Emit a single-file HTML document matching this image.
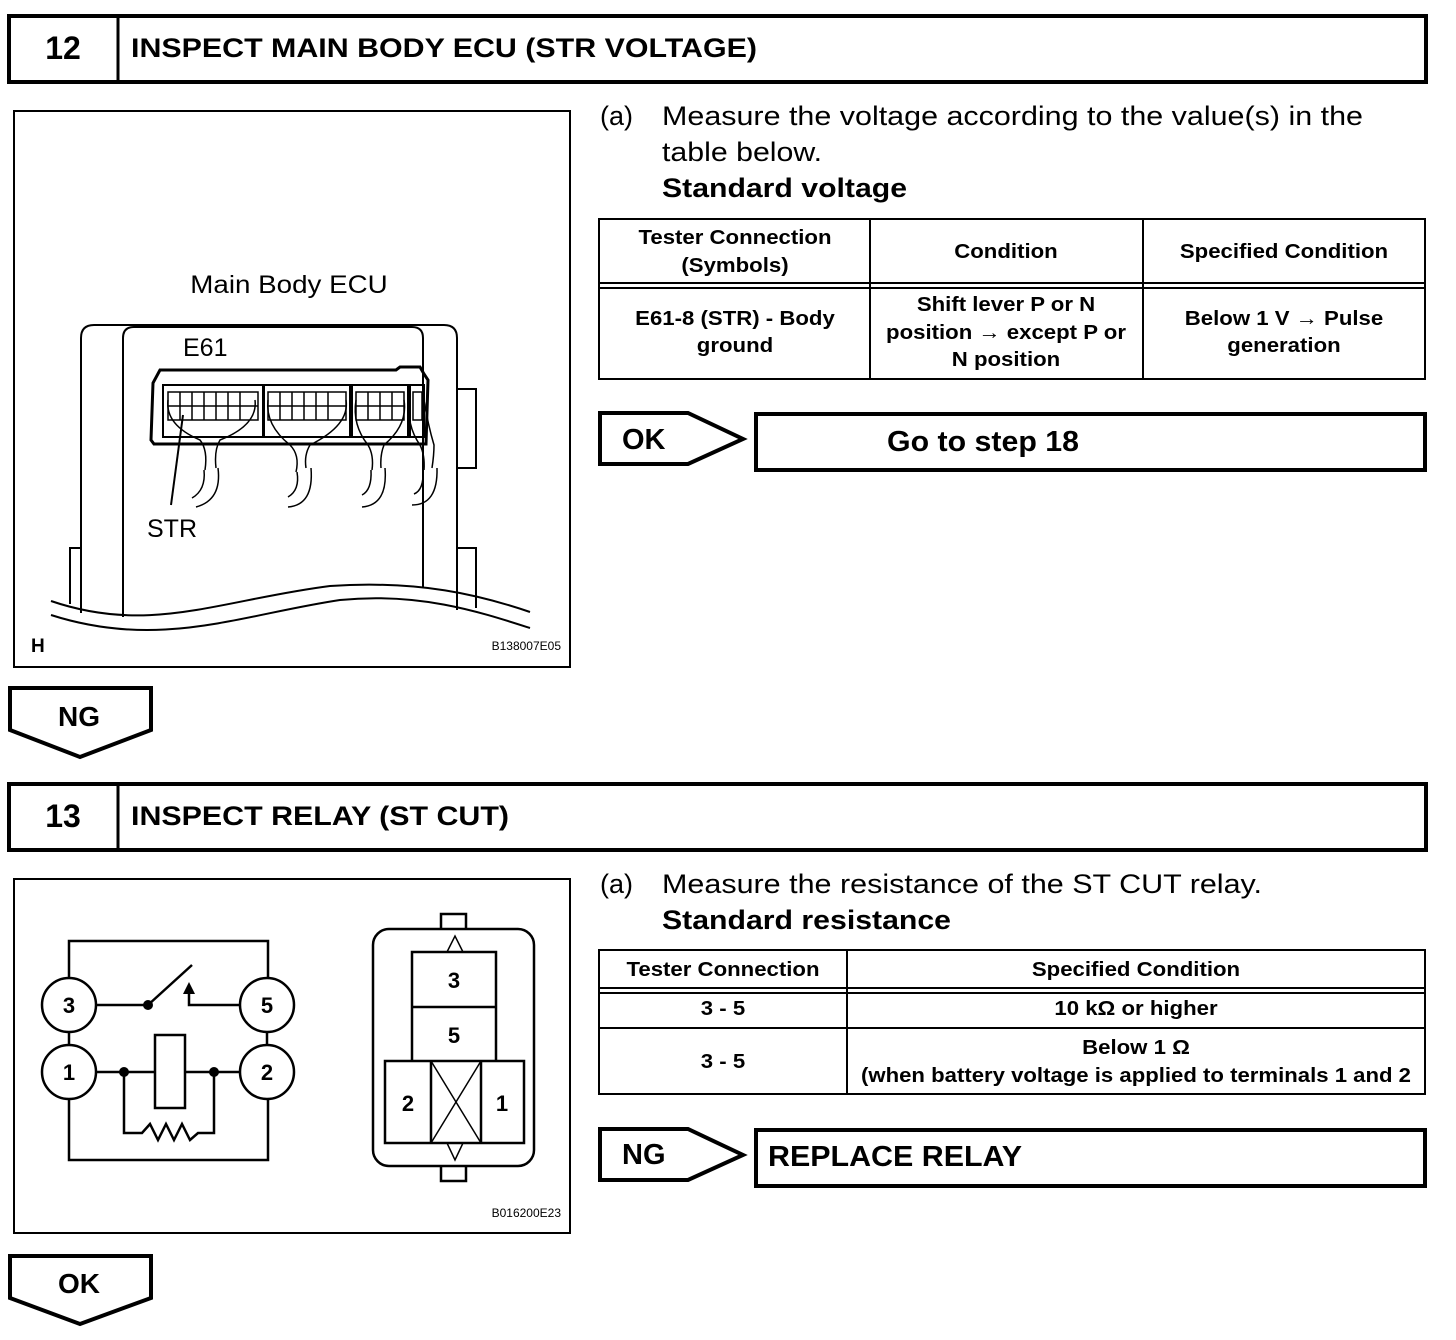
<!DOCTYPE html>
<html><head><meta charset="utf-8"><style>
body{margin:0;background:#fff}
svg{display:block}
text{font-family:"Liberation Sans",Arial,sans-serif;fill:#000}
.b{font-weight:bold}
.sc{transform-box:fill-box;transform-origin:center;transform:scaleX(1.11)}
</style></head><body>
<svg width="1456" height="1340" viewBox="0 0 1456 1340" xmlns="http://www.w3.org/2000/svg">
<g fill="none" stroke="#000">
<rect x="9" y="16" width="1417" height="66" stroke-width="4"/>
<line x1="118" y1="16" x2="118" y2="82" stroke-width="3"/>
<rect x="14" y="111" width="556" height="556" stroke-width="2"/>
<path d="M81,613 L81,338 Q81,325 94,325 L444,325 Q457,325 457,338 L457,610" stroke-width="2"/>
<path d="M123,617 L123,338 Q123,327 134,327 L412,327 Q423,327 423,338 L423,588" stroke-width="2"/>
<path d="M457,389 L476,389 L476,468 L457,468" stroke-width="2"/>
<path d="M457,548 L476,548 L476,608" stroke-width="2"/>
<path d="M81,548 L70,548 L70,604" stroke-width="2"/>
<path d="M160,370 L153,383 L151,440 L154,444 L426,444 L428,380 L424,374 L420,367 L400,367 L396,370 Z" stroke-width="3"/>
<rect x="163" y="385" width="100" height="52" stroke-width="2"/>
<rect x="264" y="385" width="86" height="52" stroke-width="2"/>
<rect x="352" y="385" width="56" height="52" stroke-width="2"/>
<rect x="410" y="385" width="14" height="52" stroke-width="2"/>
<g stroke-width="1.5">
<rect x="168" y="392" width="90" height="28"/>
<line x1="168" y1="406" x2="258" y2="406"/>
<line x1="180" y1="392" x2="180" y2="420"/><line x1="192" y1="392" x2="192" y2="420"/><line x1="204" y1="392" x2="204" y2="420"/><line x1="216" y1="392" x2="216" y2="420"/><line x1="228" y1="392" x2="228" y2="420"/><line x1="240" y1="392" x2="240" y2="420"/>
<rect x="268" y="392" width="78" height="28"/>
<line x1="268" y1="406" x2="346" y2="406"/>
<line x1="280" y1="392" x2="280" y2="420"/><line x1="292" y1="392" x2="292" y2="420"/><line x1="304" y1="392" x2="304" y2="420"/><line x1="316" y1="392" x2="316" y2="420"/><line x1="328" y1="392" x2="328" y2="420"/>
<rect x="356" y="392" width="48" height="28"/>
<line x1="356" y1="406" x2="404" y2="406"/>
<line x1="368" y1="392" x2="368" y2="420"/><line x1="380" y1="392" x2="380" y2="420"/><line x1="392" y1="392" x2="392" y2="420"/>
<rect x="413" y="392" width="9" height="28"/>
</g>
<g stroke-width="1.5">
<path d="M168,400 Q165,425 200,440 Q208,450 205,470"/><path d="M255,400 Q258,425 220,440 Q214,450 216,468"/>
<path d="M268,400 Q265,425 290,445 Q300,455 296,472"/><path d="M346,400 Q350,425 310,445 Q304,455 306,468"/>
<path d="M356,400 Q352,425 368,445 Q374,455 372,470"/><path d="M404,400 Q408,425 384,445 Q380,455 381,468"/>
<path d="M410,400 Q406,425 420,445 Q425,455 424,470"/><path d="M424,400 Q428,425 434,445 Q434,455 432,468"/>
<path d="M204,470 Q206,490 192,498"/><path d="M218,468 Q222,500 196,507"/>
<path d="M297,472 Q300,490 288,497"/><path d="M311,468 Q314,505 288,507"/>
<path d="M371,470 Q372,490 362,495"/><path d="M385,468 Q388,505 362,507"/>
<path d="M423,470 Q424,490 414,494"/><path d="M437,468 Q438,505 412,505"/>
</g>
<line x1="183" y1="415" x2="171" y2="505" stroke-width="2"/>
<path d="M51,601 C150,635 220,600 330,586 C420,580 480,595 530,612" stroke-width="2"/>
<path d="M51,615 C160,650 240,615 340,600 C420,592 480,612 530,628" stroke-width="2"/>
</g>
<text x="63" y="59" font-size="32" class="b" text-anchor="middle">12</text>
<text x="131" y="57" font-size="27" class="b" textLength="626" lengthAdjust="spacingAndGlyphs">INSPECT MAIN BODY ECU (STR VOLTAGE)</text>
<text x="289" y="293" font-size="25" text-anchor="middle" class="sc">Main Body ECU</text>
<text x="183" y="356" font-size="25">E61</text>
<text x="147" y="537" font-size="25">STR</text>
<text x="31" y="652" font-size="19" class="b">H</text>
<text x="561" y="650" font-size="12" text-anchor="end">B138007E05</text>

<text x="600" y="125" font-size="27">(a)</text>
<text x="662" y="125" font-size="27" textLength="701" lengthAdjust="spacingAndGlyphs">Measure the voltage according to the value(s) in the</text>
<text x="662" y="161" font-size="27" textLength="160" lengthAdjust="spacingAndGlyphs">table below.</text>
<text x="662" y="197" font-size="27" class="b" textLength="245" lengthAdjust="spacingAndGlyphs">Standard voltage</text>
<g fill="none" stroke="#000" stroke-width="2">
<rect x="599" y="219" width="826" height="160"/>
<line x1="870" y1="219" x2="870" y2="379"/><line x1="1143" y1="219" x2="1143" y2="379"/>
<line x1="599" y1="283" x2="1425" y2="283"/><line x1="599" y1="288" x2="1425" y2="288"/>
</g>
<g font-size="20" class="b" text-anchor="middle">
<text class="sc" x="735" y="244">Tester Connection</text><text class="sc" x="735" y="272">(Symbols)</text>
<text class="sc" x="1006" y="258">Condition</text>
<text class="sc" x="1284" y="258">Specified Condition</text>
<text class="sc" x="735" y="325">E61-8 (STR) - Body</text><text class="sc" x="735" y="352">ground</text>
<text class="sc" x="1006" y="311">Shift lever P or N</text><text class="sc" x="1006" y="339">position → except P or</text><text class="sc" x="1006" y="366">N position</text>
<text class="sc" x="1284" y="325">Below 1 V → Pulse</text><text class="sc" x="1284" y="352">generation</text>
</g>
<g fill="none" stroke="#000" stroke-width="4">
<path d="M600,413 L688,413 L743,439 L688,464 L600,464 Z"/>
<rect x="756" y="414" width="669" height="56"/>
</g>
<text x="622" y="449" font-size="29" class="b">OK</text>
<text x="983" y="451" font-size="29" class="b" text-anchor="middle" textLength="192" lengthAdjust="spacingAndGlyphs">Go to step 18</text>
<path d="M10,688 L151,688 L151,730 L80,757 L10,730 Z" fill="none" stroke="#000" stroke-width="4"/>
<text x="79" y="726" font-size="28" class="b" text-anchor="middle">NG</text>

<g fill="none" stroke="#000">
<rect x="9" y="784" width="1417" height="66" stroke-width="4"/>
<line x1="118" y1="784" x2="118" y2="850" stroke-width="3"/>
<rect x="14" y="879" width="556" height="354" stroke-width="2"/>
<g stroke-width="2.5">
<circle cx="69" cy="1005" r="27"/><circle cx="267" cy="1005" r="27"/>
<circle cx="69" cy="1072" r="27"/><circle cx="267" cy="1072" r="27"/>
<path d="M69,978 L69,941 L268,941 L268,978"/>
<line x1="69" y1="1032" x2="69" y2="1045"/><line x1="267" y1="1032" x2="267" y2="1045"/>
<line x1="96" y1="1005" x2="148" y2="1005"/><line x1="148" y1="1005" x2="192" y2="965"/>
<path d="M240,1005 L189,1005 L189,992"/>
<rect x="155" y="1035" width="30" height="73"/>
<line x1="96" y1="1072" x2="155" y2="1072"/><line x1="185" y1="1072" x2="240" y2="1072"/>
<path d="M124,1072 L124,1133 L142,1133 L150,1124 L158,1140 L166,1124 L174,1140 L182,1124 L190,1140 L198,1133 L214,1133 L214,1072"/>
<path d="M69,1099 L69,1160 L268,1160 L268,1099"/>
</g>
<g stroke-width="2.5">
<rect x="373" y="929" width="161" height="237" rx="16"/>
<path d="M441,929 L441,914 L466,914 L466,929"/>
<path d="M441,1166 L441,1181 L466,1181 L466,1166"/>
<path d="M412,1061 L412,952 L496,952 L496,1061"/>
<line x1="412" y1="1007" x2="496" y2="1007"/>
<rect x="385" y="1061" width="139" height="82"/>
<line x1="431" y1="1061" x2="431" y2="1143"/><line x1="481" y1="1061" x2="481" y2="1143"/>
</g>
<g stroke-width="1.5">
<line x1="431" y1="1061" x2="481" y2="1143"/><line x1="481" y1="1061" x2="431" y2="1143"/>
<path d="M447,952 L455,936 L463,952"/><path d="M447,1143 L455,1160 L463,1143"/>
</g>
</g>
<g fill="#000"><circle cx="148" cy="1005" r="5"/><circle cx="124" cy="1072" r="5"/><circle cx="214" cy="1072" r="5"/>
<path d="M183,994 L189,982 L195,994 Z"/></g>
<g font-size="22" class="b" text-anchor="middle">
<text x="69" y="1013">3</text><text x="267" y="1013">5</text><text x="69" y="1080">1</text><text x="267" y="1080">2</text>
<text x="454" y="988">3</text><text x="454" y="1043">5</text><text x="408" y="1111">2</text><text x="502" y="1111">1</text>
</g>
<text x="63" y="827" font-size="32" class="b" text-anchor="middle">13</text>
<text x="131" y="825" font-size="27" class="b" textLength="378" lengthAdjust="spacingAndGlyphs">INSPECT RELAY (ST CUT)</text>
<text x="561" y="1217" font-size="12" text-anchor="end">B016200E23</text>

<text x="600" y="893" font-size="27">(a)</text>
<text x="662" y="893" font-size="27" textLength="600" lengthAdjust="spacingAndGlyphs">Measure the resistance of the ST CUT relay.</text>
<text x="662" y="929" font-size="27" class="b" textLength="289" lengthAdjust="spacingAndGlyphs">Standard resistance</text>
<g fill="none" stroke="#000" stroke-width="2">
<rect x="599" y="950" width="826" height="144"/>
<line x1="847" y1="950" x2="847" y2="1094"/>
<line x1="599" y1="988" x2="1425" y2="988"/><line x1="599" y1="993" x2="1425" y2="993"/>
<line x1="599" y1="1028" x2="1425" y2="1028"/>
</g>
<g font-size="20" class="b" text-anchor="middle">
<text class="sc" x="723" y="976">Tester Connection</text><text class="sc" x="1136" y="976">Specified Condition</text>
<text class="sc" x="723" y="1015">3 - 5</text><text class="sc" x="1136" y="1015">10 kΩ or higher</text>
<text class="sc" x="723" y="1068">3 - 5</text><text class="sc" x="1136" y="1054">Below 1 Ω</text>
<text x="1136" y="1082" textLength="550" lengthAdjust="spacingAndGlyphs">(when battery voltage is applied to terminals 1 and 2</text>
</g>
<g fill="none" stroke="#000" stroke-width="4">
<path d="M600,1129 L688,1129 L743,1155 L688,1180 L600,1180 Z"/>
<rect x="756" y="1130" width="669" height="56"/>
</g>
<text x="622" y="1164" font-size="29" class="b">NG</text>
<text x="768" y="1166" font-size="29" class="b" textLength="254" lengthAdjust="spacingAndGlyphs">REPLACE RELAY</text>
<path d="M10,1256 L151,1256 L151,1298 L80,1324 L10,1298 Z" fill="none" stroke="#000" stroke-width="4"/>
<text x="79" y="1293" font-size="28" class="b" text-anchor="middle">OK</text>
</svg>
</body></html>
